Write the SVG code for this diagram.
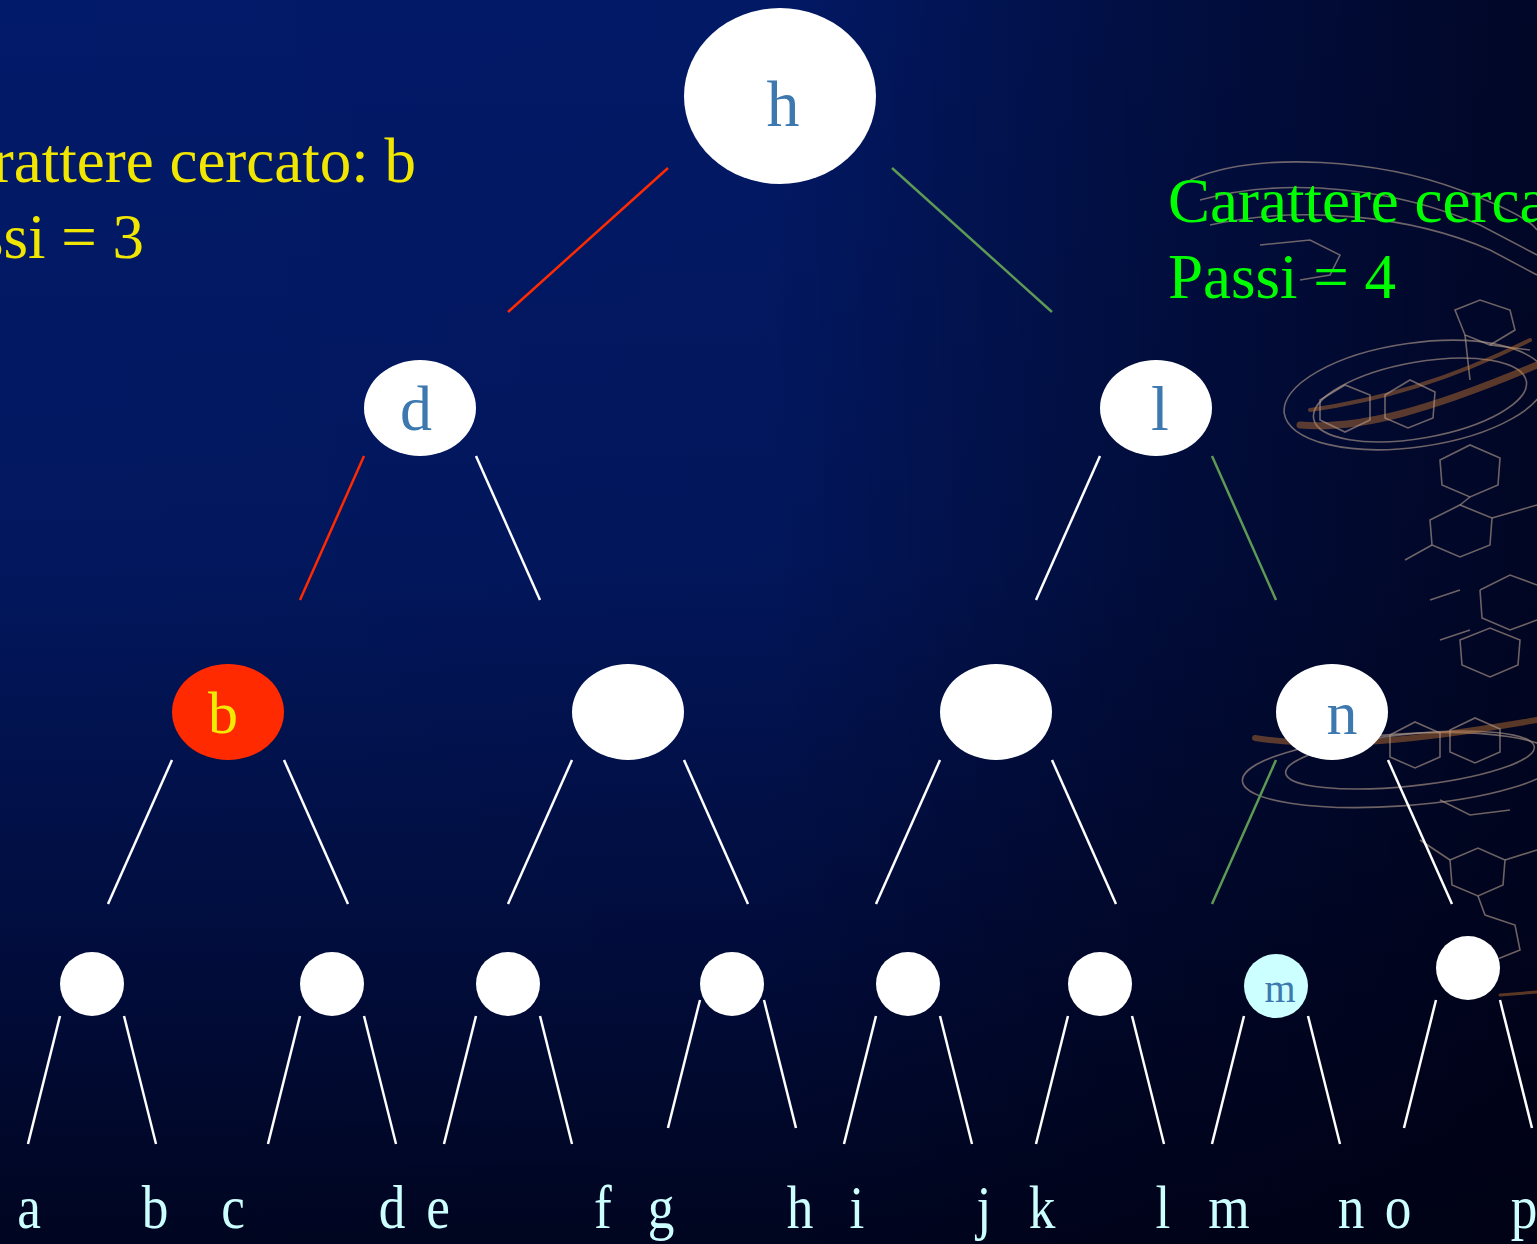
<svg xmlns="http://www.w3.org/2000/svg" width="1537" height="1244" viewBox="0 0 1537 1244">
  <defs>
    <linearGradient id="bgV" x1="0" y1="0" x2="0" y2="1">
      <stop offset="0" stop-color="#021a6a"/>
      <stop offset="0.45" stop-color="#02175e"/>
      <stop offset="0.75" stop-color="#010d3e"/>
      <stop offset="1" stop-color="#000520"/>
    </linearGradient>
    <linearGradient id="bgH" x1="0" y1="0" x2="1" y2="0">
      <stop offset="0" stop-color="#000010" stop-opacity="0"/>
      <stop offset="0.5" stop-color="#000010" stop-opacity="0.05"/>
      <stop offset="0.75" stop-color="#000010" stop-opacity="0.45"/>
      <stop offset="1" stop-color="#000010" stop-opacity="0.75"/>
    </linearGradient>
    <style>
      .node { fill: #ffffff; }
      .lbl { font-family: "Liberation Serif", "Times New Roman", serif; fill: #3d78ae; text-anchor: middle; }
      .edge { stroke: #ffffff; stroke-width: 2.5; fill: none; }
      .red { stroke: #ff2a00; }
      .green { stroke: #5c9a55; }
      .leaf { font-family: "Liberation Serif", "Times New Roman", serif; fill: #ccffff; font-size: 62px; text-anchor: middle; }
      .note { font-family: "Liberation Serif", "Times New Roman", serif; font-size: 63px; }
      .wire { fill: none; stroke: #b8a090; stroke-width: 1.6; opacity: 0.6; }
      .glow { fill: none; stroke: #c87830; stroke-linecap: round; opacity: 0.45; }
    </style>
  </defs>

  <!-- background -->
  <rect width="1537" height="1244" fill="url(#bgV)"/>
  <rect width="1537" height="1244" fill="url(#bgH)"/>

  <!-- molecular wireframe decoration on the right -->
  <g id="molecule">
    <path class="wire" d="M1190,180 C1260,150 1380,160 1460,190 C1500,205 1530,220 1537,230"/>
    <path class="wire" d="M1200,200 C1290,175 1400,190 1480,225 L1537,255"/>
    <path class="wire" d="M1210,225 C1300,205 1410,215 1490,250 L1537,275"/>
    <path class="wire" d="M1260,245 L1310,240 L1340,255 L1330,275 L1300,280"/>
    <path class="wire" d="M1455,310 L1480,300 L1510,310 L1515,330 L1490,345 L1465,335 Z"/>
    <path class="wire" d="M1465,335 L1470,380 M1490,345 L1530,350"/>
    <ellipse class="wire" cx="1415" cy="395" rx="132" ry="52" transform="rotate(-8 1415 395)"/>
    <ellipse class="wire" cx="1420" cy="400" rx="108" ry="38" transform="rotate(-10 1420 400)"/>
    <path class="glow" stroke-width="7" d="M1300,425 C1360,430 1430,410 1537,365"/>
    <path class="glow" stroke-width="4" d="M1310,410 C1380,400 1450,380 1530,340"/>
    <path class="wire" d="M1320,400 L1345,385 L1370,395 L1370,420 L1345,432 L1320,420 Z"/>
    <path class="wire" d="M1385,395 L1410,380 L1435,392 L1433,418 L1408,428 L1385,418 Z"/>
    <path class="wire" d="M1440,460 L1470,445 L1500,458 L1498,485 L1470,497 L1442,485 Z"/>
    <path class="wire" d="M1430,520 L1460,505 L1492,518 L1490,545 L1460,557 L1432,545 Z"/>
    <path class="wire" d="M1470,497 L1460,505 M1492,518 L1537,505 M1432,545 L1405,560"/>
    <path class="wire" d="M1480,590 L1510,575 L1537,585 M1480,590 L1482,618 L1510,630 L1537,620"/>
    <path class="wire" d="M1430,600 L1460,590 M1440,640 L1470,630"/>
    <path class="wire" d="M1460,640 L1490,628 L1520,640 L1518,665 L1490,677 L1462,665 Z"/>
    <ellipse class="wire" cx="1400" cy="770" rx="158" ry="36" transform="rotate(-4 1400 770)"/>
    <ellipse class="wire" cx="1410" cy="760" rx="125" ry="26" transform="rotate(-6 1410 760)"/>
    <path class="glow" stroke-width="6" d="M1255,738 C1330,750 1420,740 1537,720"/>
    <path class="wire" d="M1390,735 L1415,722 L1440,733 L1440,757 L1415,768 L1390,757 Z"/>
    <path class="wire" d="M1450,730 L1475,718 L1500,729 L1500,752 L1475,763 L1450,752 Z"/>
    <path class="wire" d="M1450,860 L1478,848 L1505,860 L1503,885 L1478,896 L1452,885 Z"/>
    <path class="wire" d="M1478,896 L1485,915 L1515,925 L1520,950 L1495,960 M1505,860 L1537,850"/>
    <path class="wire" d="M1420,840 L1450,860 M1440,800 L1470,815 L1510,810"/>
    <path class="glow" stroke-width="3" d="M1500,995 L1537,992"/>
  </g>

  <!-- connectors -->
  <g id="connectors">
    <line class="edge red" x1="668" y1="168" x2="508" y2="312"/>
    <line class="edge green" x1="892" y1="168" x2="1052" y2="312"/>

    <line class="edge red" x1="364" y1="456" x2="300" y2="600"/>
    <line class="edge" x1="476" y1="456" x2="540" y2="600"/>
    <line class="edge" x1="1100" y1="456" x2="1036" y2="600"/>
    <line class="edge green" x1="1212" y1="456" x2="1276" y2="600"/>

    <line class="edge" x1="172" y1="760" x2="108" y2="904"/>
    <line class="edge" x1="284" y1="760" x2="348" y2="904"/>
    <line class="edge" x1="572" y1="760" x2="508" y2="904"/>
    <line class="edge" x1="684" y1="760" x2="748" y2="904"/>
    <line class="edge" x1="940" y1="760" x2="876" y2="904"/>
    <line class="edge" x1="1052" y1="760" x2="1116" y2="904"/>
    <line class="edge green" x1="1276" y1="760" x2="1212" y2="904"/>
    <line class="edge" x1="1388" y1="760" x2="1452" y2="904"/>

    <line class="edge" x1="60" y1="1016" x2="28" y2="1144"/>
    <line class="edge" x1="124" y1="1016" x2="156" y2="1144"/>
    <line class="edge" x1="300" y1="1016" x2="268" y2="1144"/>
    <line class="edge" x1="364" y1="1016" x2="396" y2="1144"/>
    <line class="edge" x1="476" y1="1016" x2="444" y2="1144"/>
    <line class="edge" x1="540" y1="1016" x2="572" y2="1144"/>
    <line class="edge" x1="700" y1="1000" x2="668" y2="1128"/>
    <line class="edge" x1="764" y1="1000" x2="796" y2="1128"/>
    <line class="edge" x1="876" y1="1016" x2="844" y2="1144"/>
    <line class="edge" x1="940" y1="1016" x2="972" y2="1144"/>
    <line class="edge" x1="1068" y1="1016" x2="1036" y2="1144"/>
    <line class="edge" x1="1132" y1="1016" x2="1164" y2="1144"/>
    <line class="edge" x1="1244" y1="1016" x2="1212" y2="1144"/>
    <line class="edge" x1="1308" y1="1016" x2="1340" y2="1144"/>
    <line class="edge" x1="1436" y1="1000" x2="1404" y2="1128"/>
    <line class="edge" x1="1500" y1="1000" x2="1532" y2="1128"/>
  </g>

  <!-- root -->
  <g id="node-h">
    <ellipse class="node" cx="780" cy="96" rx="96" ry="88"/>
    <text class="lbl" x="783" y="126" font-size="66">h</text>
  </g>

  <!-- level 1 -->
  <g id="node-d">
    <ellipse class="node" cx="420" cy="408" rx="56" ry="48"/>
    <text class="lbl" x="416" y="430" font-size="64">d</text>
  </g>
  <g id="node-l">
    <ellipse class="node" cx="1156" cy="408" rx="56" ry="48"/>
    <text class="lbl" x="1160" y="430" font-size="64">l</text>
  </g>

  <!-- level 2 -->
  <g id="node-b">
    <ellipse cx="228" cy="712" rx="56" ry="48" fill="#ff2a00"/>
    <text class="lbl" x="223" y="733" font-size="60" style="fill:#f2ea00">b</text>
  </g>
  <g id="node-f">
    <ellipse class="node" cx="628" cy="712" rx="56" ry="48"/>
  </g>
  <g id="node-j">
    <ellipse class="node" cx="996" cy="712" rx="56" ry="48"/>
  </g>
  <g id="node-n">
    <ellipse class="node" cx="1332" cy="712" rx="56" ry="48"/>
    <text class="lbl" x="1342" y="734" font-size="62">n</text>
  </g>

  <!-- level 3 -->
  <g id="node-a"><ellipse class="node" cx="92" cy="984" rx="32" ry="32"/></g>
  <g id="node-c"><ellipse class="node" cx="332" cy="984" rx="32" ry="32"/></g>
  <g id="node-e"><ellipse class="node" cx="508" cy="984" rx="32" ry="32"/></g>
  <g id="node-g"><ellipse class="node" cx="732" cy="984" rx="32" ry="32"/></g>
  <g id="node-i"><ellipse class="node" cx="908" cy="984" rx="32" ry="32"/></g>
  <g id="node-k"><ellipse class="node" cx="1100" cy="984" rx="32" ry="32"/></g>
  <g id="node-m">
    <ellipse cx="1276" cy="986" rx="32" ry="32" fill="#ccffff"/>
    <text class="lbl" x="1280" y="1002" font-size="40">m</text>
  </g>
  <g id="node-o"><ellipse class="node" cx="1468" cy="968" rx="32" ry="32"/></g>

  <!-- leaf letters -->
  <g id="leaves">
    <text class="leaf" transform="translate(29 1228) scale(0.86 1)">a</text>
    <text class="leaf" transform="translate(155 1228) scale(0.86 1)">b</text>
    <text class="leaf" transform="translate(233 1228) scale(0.86 1)">c</text>
    <text class="leaf" transform="translate(392 1228) scale(0.86 1)">d</text>
    <text class="leaf" transform="translate(438 1228) scale(0.86 1)">e</text>
    <text class="leaf" transform="translate(603 1228) scale(0.86 1)">f</text>
    <text class="leaf" transform="translate(661 1228) scale(0.86 1)">g</text>
    <text class="leaf" transform="translate(800 1228) scale(0.86 1)">h</text>
    <text class="leaf" transform="translate(857 1228) scale(0.86 1)">i</text>
    <text class="leaf" transform="translate(984 1228) scale(0.86 1)">j</text>
    <text class="leaf" transform="translate(1042 1228) scale(0.86 1)">k</text>
    <text class="leaf" transform="translate(1163 1228) scale(0.86 1)">l</text>
    <text class="leaf" transform="translate(1229 1228) scale(0.86 1)">m</text>
    <text class="leaf" transform="translate(1351 1228) scale(0.86 1)">n</text>
    <text class="leaf" transform="translate(1398 1228) scale(0.86 1)">o</text>
    <text class="leaf" transform="translate(1524 1228) scale(0.86 1)">p</text>
  </g>

  <!-- search notes -->
  <g id="note-b" fill="#f0e600">
    <text class="note" x="416" y="182" text-anchor="end">Carattere cercato: b</text>
    <text class="note" x="144" y="258" text-anchor="end">Passi = 3</text>
  </g>
  <g id="note-m" fill="#00ff00">
    <text class="note" x="1168" y="222">Carattere cercato: m</text>
    <text class="note" x="1168" y="298">Passi = 4</text>
  </g>
</svg>
